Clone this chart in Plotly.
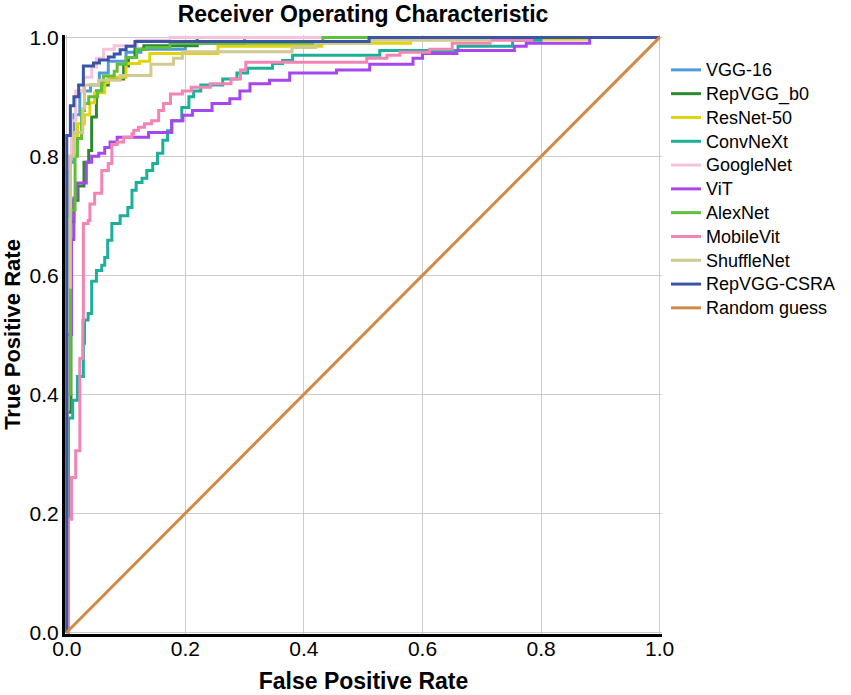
import plotly.graph_objects as go

# ---------------- data ----------------
names = ["VGG-16", "RepVGG_b0", "ResNet-50", "ConvNeXt", "GoogleNet", "ViT",
         "AlexNet", "MobileVit", "ShuffleNet", "RepVGG-CSRA"]

vgg16_fpr = [0.0, 0.0, 0.005, 0.012, 0.022, 0.04, 0.055, 0.07, 0.10, 0.125, 0.20, 0.30, 1.0]
vgg16_tpr = [0.0, 0.70, 0.79, 0.87, 0.91, 0.92, 0.94, 0.96, 0.975, 0.98, 0.99, 1.0, 1.0]

repvgg_b0_fpr = [0.0, 0.0, 0.007, 0.012, 0.019, 0.029, 0.037, 0.042, 0.05, 0.059, 0.07, 0.096, 0.104, 0.115, 0.13, 0.22, 1.0]
repvgg_b0_tpr = [0.0, 0.37, 0.69, 0.726, 0.75, 0.79, 0.81, 0.866, 0.91, 0.92, 0.93, 0.952, 0.966, 0.98, 0.986, 1.0, 1.0]

resnet50_fpr = [0.0, 0.0, 0.006, 0.012, 0.018, 0.03, 0.039, 0.047, 0.064, 0.07, 0.10, 0.123, 0.14, 0.255, 0.43, 0.58, 0.878, 1.0]
resnet50_tpr = [0.0, 0.74, 0.80, 0.82, 0.855, 0.87, 0.89, 0.907, 0.924, 0.933, 0.956, 0.96, 0.973, 0.985, 0.99, 0.997, 1.0, 1.0]

convnext_fpr = [0.0, 0.003, 0.01, 0.018, 0.028, 0.03, 0.036, 0.042, 0.05, 0.059, 0.064, 0.069, 0.076, 0.09,
                0.103, 0.11, 0.117, 0.127, 0.135, 0.145, 0.153, 0.162, 0.17, 0.177, 0.194, 0.206, 0.214,
                0.226, 0.263, 0.287, 0.305, 0.347, 0.364, 0.381, 0.528, 0.66, 0.752, 0.80, 1.0]
convnext_tpr = [0.0, 0.36, 0.39, 0.43, 0.486, 0.525, 0.536, 0.59, 0.608, 0.617, 0.63, 0.659, 0.687, 0.70,
                0.714, 0.743, 0.756, 0.763, 0.776, 0.788, 0.805, 0.827, 0.843, 0.86, 0.882, 0.90, 0.91,
                0.92, 0.93, 0.94, 0.948, 0.956, 0.961, 0.97, 0.978, 0.985, 0.995, 1.0, 1.0]

googlenet_fpr = [0.0, 0.0, 0.004, 0.008, 0.015, 0.028, 0.042, 0.05, 0.062, 0.08, 0.118, 0.174, 1.0]
googlenet_tpr = [0.0, 0.78, 0.80, 0.86, 0.91, 0.933, 0.95, 0.965, 0.98, 0.986, 0.995, 1.0, 1.0]

vit_fpr = [0.0, 0.0, 0.008, 0.012, 0.017, 0.033, 0.042, 0.054, 0.064, 0.073, 0.085, 0.138, 0.177, 0.196,
           0.212, 0.245, 0.275, 0.292, 0.309, 0.342, 0.376, 0.455, 0.511, 0.584, 0.60, 0.658, 0.755, 0.775,
           0.882, 1.0]
vit_tpr = [0.0, 0.50, 0.66, 0.73, 0.755, 0.79, 0.80, 0.805, 0.815, 0.824, 0.832, 0.84, 0.86, 0.869,
           0.877, 0.889, 0.897, 0.91, 0.922, 0.928, 0.94, 0.945, 0.955, 0.965, 0.973, 0.978, 0.985, 0.99,
           1.0, 1.0]

alexnet_fpr = [0.0, 0.0, 0.006, 0.014, 0.018, 0.025, 0.03, 0.037, 0.052, 0.059, 0.062, 0.08, 0.085, 0.10,
               0.118, 0.135, 0.174, 0.432, 1.0]
alexnet_tpr = [0.0, 0.40, 0.71, 0.80, 0.83, 0.877, 0.889, 0.90, 0.91, 0.926, 0.935, 0.943, 0.955, 0.966,
               0.98, 0.983, 0.99, 1.0, 1.0]

mobilevit_fpr = [0.0, 0.003, 0.008, 0.015, 0.022, 0.027, 0.028, 0.036, 0.039, 0.047, 0.059, 0.07, 0.076,
                 0.085, 0.096, 0.11, 0.113, 0.121, 0.131, 0.143, 0.155, 0.163, 0.175, 0.195, 0.21, 0.242,
                 0.277, 0.293, 0.302, 0.506, 0.54, 0.562, 0.612, 0.65, 0.714, 0.784, 1.0]
mobilevit_tpr = [0.0, 0.19, 0.26, 0.305, 0.46, 0.524, 0.687, 0.692, 0.72, 0.738, 0.776, 0.788, 0.82,
                 0.824, 0.832, 0.838, 0.844, 0.849, 0.855, 0.86, 0.877, 0.889, 0.905, 0.91, 0.916, 0.922,
                 0.93, 0.945, 0.958, 0.965, 0.97, 0.975, 0.98, 0.99, 0.995, 1.0, 1.0]

shufflenet_fpr = [0.0, 0.0, 0.006, 0.012, 0.027, 0.03, 0.054, 0.09, 0.142, 0.18, 0.195, 0.38, 0.42, 0.51, 0.713, 1.0]
shufflenet_tpr = [0.0, 0.58, 0.80, 0.84, 0.88, 0.92, 0.928, 0.936, 0.955, 0.965, 0.976, 0.983, 0.99, 0.995, 1.0, 1.0]

csra_fpr = [0.0, 0.0, 0.006, 0.012, 0.02, 0.028, 0.045, 0.055, 0.07, 0.08, 0.09, 0.10, 0.115, 0.51, 1.0]
csra_tpr = [0.0, 0.835, 0.885, 0.90, 0.92, 0.952, 0.957, 0.962, 0.967, 0.972, 0.979, 0.985, 0.993, 1.0, 1.0]

random_fpr = [0.0, 1.0]
random_tpr = [0.0, 1.0]

tick_vals = [0.0, 0.2, 0.4, 0.6, 0.8, 1.0]
tick_text = ["0.0", "0.2", "0.4", "0.6", "0.8", "1.0"]

# ---------------- styling ----------------
colors = ["#4f9ade", "#2b8a2b", "#e2d40c", "#1cb09a", "#f5c3dc", "#a646ef",
          "#5fbe3a", "#f384b4", "#d2c98f", "#3b54a4"]
random_color = "#d08a45"

curves = [(vgg16_fpr, vgg16_tpr), (repvgg_b0_fpr, repvgg_b0_tpr), (resnet50_fpr, resnet50_tpr),
          (convnext_fpr, convnext_tpr), (googlenet_fpr, googlenet_tpr), (vit_fpr, vit_tpr),
          (alexnet_fpr, alexnet_tpr), (mobilevit_fpr, mobilevit_tpr), (shufflenet_fpr, shufflenet_tpr),
          (csra_fpr, csra_tpr)]


def legend_label(text):
    return '<span style="font-size:18px">' + text + '</span>'


fig = go.Figure()
for name, color, (fx, ty) in zip(names, colors, curves):
    fig.add_trace(go.Scatter(x=fx, y=ty, mode="lines", name=legend_label(name),
                             line=dict(color=color, width=3, shape="hv")))
fig.add_trace(go.Scatter(x=random_fpr, y=random_tpr, mode="lines", name=legend_label("Random guess"),
                         line=dict(color=random_color, width=3)))

font_family = "Liberation Sans, Arial, sans-serif"
tick_font = dict(family=font_family, size=21, color="black")

fig.update_layout(
    width=851, height=695,
    margin=dict(l=65, r=189, t=35, b=61, autoexpand=False),
    paper_bgcolor="white", plot_bgcolor="white",
    font=dict(family=font_family, color="black"),
    title=dict(text="<b>Receiver Operating Characteristic</b>", x=363 / 851, xref="container",
               xanchor="center", y=1 - 14 / 695, yref="container", yanchor="middle",
               font=dict(size=23, family=font_family, color="black")),
    legend=dict(x=1.0067, xanchor="left", y=0.97, yanchor="top", font=dict(size=16, color="black"),
                bgcolor="rgba(0,0,0,0)", borderwidth=0, tracegroupgap=0),
    showlegend=True,
)
fig.update_xaxes(range=[-0.003, 1.004], tickvals=tick_vals, ticktext=tick_text, tickfont=tick_font,
                 showgrid=True, gridcolor="#cccccc", gridwidth=1, zeroline=False, automargin=False,
                 showline=True, linecolor="black", linewidth=3, ticks="", ticklabelstandoff=-6,
                 title=dict(text="<b>False Positive Rate</b>", font=dict(size=23, color="black"), standoff=14))
fig.update_yaxes(range=[-0.003, 1.004], tickvals=tick_vals, ticktext=tick_text, tickfont=tick_font,
                 showgrid=True, gridcolor="#cccccc", gridwidth=1, zeroline=False, automargin=False,
                 showline=True, linecolor="black", linewidth=3, ticks="", ticklabelstandoff=-1,
                 title=dict(text="<b>True Positive Rate</b>", font=dict(size=22, color="black"), standoff=7))

fig.write_html("out.html", config={"displayModeBar": False},
               post_script="document.body.style.margin='0';document.body.style.padding='0';")
